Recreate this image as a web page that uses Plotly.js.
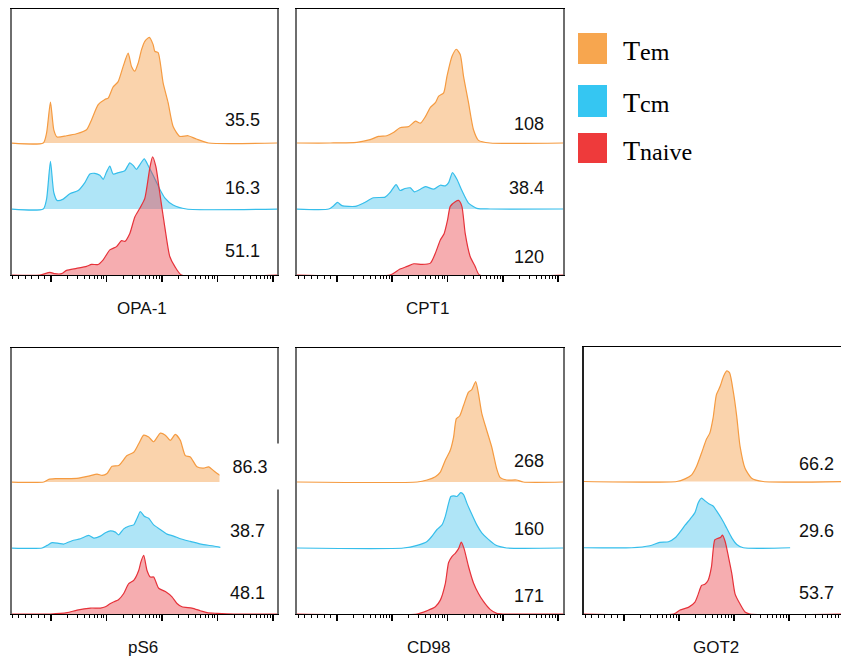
<!DOCTYPE html>
<html>
<head>
<meta charset="utf-8">
<script src="https://cdn.plot.ly/plotly-3.0.1.min.js"></script>
<style>html,body{margin:0;padding:0;background:#fff;}#chart{width:841px;height:662px;}</style>
</head>
<body>
<div id="chart"></div>
<script>
// ---------- data ----------
const markers = ['OPA-1', 'CPT1', 'pS6', 'CD98', 'GOT2'];
const populations = ['Tem', 'Tcm', 'Tnaive'];
const value_Tem = [35.5, 108, 86.3, 268, 66.2];
const value_Tcm = [16.3, 38.4, 38.7, 160, 29.6];
const value_Tnaive = [51.1, 120, 48.1, 171, 53.7];

// x: position on the log (decade) axis; y: normalised count (1 = one lane height)
const opa1_Tem_x = [-0.75, -0.14, -0.08, -0.01, 0.05, 0.11, 0.28, 0.46, 0.64, 0.73, 0.85, 0.97, 1.03, 1.12, 1.21, 1.30, 1.39, 1.45, 1.51, 1.57, 1.63, 1.69, 1.77, 1.84, 1.87, 1.93, 2.02, 2.11, 2.20, 2.32, 2.47, 2.62, 2.84, 4.1];
const opa1_Tem_y = [0, 0, 0.15, 0.62, 0.20, 0.09, 0.11, 0.14, 0.20, 0.35, 0.58, 0.66, 0.68, 0.85, 0.93, 1.16, 1.36, 1.16, 1.09, 1.21, 1.41, 1.54, 1.60, 1.49, 1.39, 1.37, 0.91, 0.61, 0.25, 0.10, 0.11, 0.06, 0, 0];
const opa1_Tcm_x = [-0.75, -0.14, -0.08, -0.01, 0.05, 0.11, 0.22, 0.34, 0.49, 0.61, 0.70, 0.79, 0.88, 0.94, 1.00, 1.06, 1.12, 1.21, 1.33, 1.42, 1.48, 1.54, 1.60, 1.68, 1.75, 1.84, 1.96, 2.05, 2.20, 2.44, 4.1];
const opa1_Tcm_y = [0, 0, 0.15, 0.72, 0.25, 0.13, 0.15, 0.23, 0.28, 0.40, 0.53, 0.54, 0.51, 0.45, 0.56, 0.65, 0.53, 0.55, 0.58, 0.70, 0.66, 0.60, 0.67, 0.76, 0.66, 0.51, 0.30, 0.17, 0.06, 0, 0];
const opa1_Tnaive_x = [-0.75, -0.20, -0.02, 0.07, 0.19, 0.28, 0.46, 0.64, 0.73, 0.85, 0.94, 1.06, 1.18, 1.27, 1.33, 1.42, 1.51, 1.60, 1.69, 1.78, 1.83, 1.89, 1.96, 2.05, 2.14, 2.23, 2.35, 4.1];
const opa1_Tnaive_y = [0, 0, 0.04, 0.02, 0.02, 0.07, 0.10, 0.13, 0.16, 0.16, 0.23, 0.38, 0.43, 0.52, 0.51, 0.63, 0.88, 1.01, 1.16, 1.62, 1.79, 1.64, 1.24, 0.73, 0.28, 0.13, 0, 0];

const cpt1_Tem_x = [-0.75, -0.12, 0.36, 0.60, 0.75, 0.90, 1.02, 1.14, 1.30, 1.42, 1.51, 1.60, 1.69, 1.78, 1.84, 1.93, 1.99, 2.08, 2.16, 2.23, 2.29, 2.38, 2.47, 2.56, 2.77, 4.1];
const cpt1_Tem_y = [0, 0, 0.01, 0.05, 0.10, 0.11, 0.16, 0.23, 0.25, 0.33, 0.30, 0.40, 0.54, 0.61, 0.71, 0.76, 1.01, 1.31, 1.42, 1.34, 1.01, 0.61, 0.20, 0.04, 0, 0];
const cpt1_Tcm_x = [-0.75, -0.15, -0.06, 0.01, 0.09, 0.33, 0.48, 0.66, 0.87, 0.96, 1.07, 1.14, 1.23, 1.33, 1.40, 1.51, 1.60, 1.75, 1.87, 1.96, 2.02, 2.09, 2.17, 2.26, 2.38, 2.53, 2.77, 4.1];
const cpt1_Tcm_y = [0, 0, 0.05, 0.10, 0.05, 0.04, 0.09, 0.17, 0.18, 0.25, 0.37, 0.28, 0.31, 0.32, 0.26, 0.30, 0.34, 0.30, 0.36, 0.35, 0.40, 0.55, 0.45, 0.28, 0.09, 0.01, 0, 0];
const cpt1_Tnaive_x = [-0.75, 0.96, 1.14, 1.27, 1.39, 1.54, 1.69, 1.78, 1.87, 1.94, 2.00, 2.05, 2.14, 2.20, 2.26, 2.32, 2.41, 2.50, 2.58, 4.1];
const cpt1_Tnaive_y = [0, 0, 0.09, 0.13, 0.17, 0.16, 0.18, 0.33, 0.53, 0.63, 0.83, 1.04, 1.11, 1.13, 1.04, 0.63, 0.28, 0.13, 0, 0];

const ps6_Tem_x = [-0.75, -0.13, -0.04, 0.08, 0.29, 0.50, 0.68, 0.83, 0.92, 1.01, 1.10, 1.22, 1.37, 1.49, 1.58, 1.67, 1.76, 1.85, 1.97, 2.06, 2.15, 2.24, 2.33, 2.42, 2.51, 2.63, 2.75, 2.84, 2.96, 3.08];
const ps6_Tem_y = [0, 0, 0.04, 0.05, 0.05, 0.06, 0.09, 0.12, 0.10, 0.13, 0.24, 0.25, 0.40, 0.45, 0.58, 0.71, 0.68, 0.61, 0.74, 0.71, 0.63, 0.72, 0.63, 0.40, 0.38, 0.23, 0.21, 0.23, 0.15, 0.08];
const ps6_Tcm_x = [-0.75, -0.16, -0.07, 0.02, 0.14, 0.23, 0.38, 0.53, 0.68, 0.77, 0.89, 0.98, 1.07, 1.16, 1.22, 1.31, 1.40, 1.49, 1.55, 1.61, 1.68, 1.76, 1.85, 1.97, 2.09, 2.21, 2.33, 2.51, 2.75, 2.93, 3.05];
const ps6_Tcm_y = [0, 0, 0.04, 0.08, 0.07, 0.06, 0.11, 0.14, 0.19, 0.15, 0.18, 0.23, 0.26, 0.24, 0.20, 0.29, 0.33, 0.35, 0.45, 0.55, 0.48, 0.45, 0.35, 0.28, 0.21, 0.18, 0.14, 0.10, 0.05, 0.03, 0.01];
const ps6_Tnaive_x = [-0.75, -0.01, 0.29, 0.47, 0.71, 0.89, 0.98, 1.07, 1.22, 1.31, 1.40, 1.49, 1.58, 1.62, 1.67, 1.73, 1.79, 1.85, 1.94, 2.06, 2.18, 2.27, 2.36, 2.54, 2.69, 2.81, 2.99, 3.29, 4.1];
const ps6_Tnaive_y = [0, 0, 0.02, 0.06, 0.09, 0.09, 0.11, 0.16, 0.22, 0.31, 0.46, 0.51, 0.66, 0.79, 0.89, 0.66, 0.56, 0.56, 0.39, 0.34, 0.26, 0.16, 0.11, 0.09, 0.05, 0.02, 0.01, 0, 0];

const cd98_Tem_x = [-0.75, 1.45, 1.63, 1.78, 1.87, 1.96, 2.05, 2.11, 2.16, 2.22, 2.29, 2.38, 2.44, 2.51, 2.56, 2.62, 2.71, 2.80, 2.89, 2.95, 3.07, 3.25, 3.37, 4.1];
const cd98_Tem_y = [0, 0, 0.03, 0.08, 0.15, 0.33, 0.48, 0.68, 0.96, 1.00, 1.16, 1.36, 1.40, 1.52, 1.34, 1.04, 0.78, 0.53, 0.20, 0.07, 0.03, 0.03, 0, 0];
const cd98_Tcm_x = [-0.75, 1.20, 1.45, 1.63, 1.72, 1.81, 1.90, 1.96, 2.02, 2.06, 2.11, 2.17, 2.24, 2.29, 2.35, 2.44, 2.53, 2.62, 2.74, 2.86, 2.95, 3.07, 4.1];
const cd98_Tcm_y = [0, 0, 0.04, 0.10, 0.18, 0.28, 0.35, 0.48, 0.68, 0.78, 0.79, 0.78, 0.84, 0.81, 0.68, 0.51, 0.35, 0.23, 0.13, 0.05, 0.02, 0, 0];
const cd98_Tnaive_x = [-0.75, 1.45, 1.63, 1.78, 1.87, 1.96, 2.02, 2.08, 2.14, 2.20, 2.25, 2.30, 2.38, 2.47, 2.56, 2.65, 2.77, 2.89, 3.01, 4.1];
const cd98_Tnaive_y = [0, 0, 0.05, 0.11, 0.21, 0.46, 0.78, 0.87, 0.92, 0.99, 1.09, 0.99, 0.72, 0.47, 0.31, 0.19, 0.07, 0.01, 0, 0];

const got2_Tem_x = [-0.75, 0.96, 1.11, 1.23, 1.32, 1.41, 1.50, 1.56, 1.62, 1.68, 1.75, 1.81, 1.87, 1.92, 1.99, 2.05, 2.11, 2.20, 2.32, 2.53, 4.1];
const got2_Tem_y = [0, 0, 0.04, 0.10, 0.23, 0.43, 0.64, 0.73, 0.96, 1.31, 1.44, 1.59, 1.67, 1.64, 1.34, 0.98, 0.53, 0.20, 0.05, 0, 0];
const got2_Tcm_x = [-0.75, 0.14, 0.47, 0.65, 0.81, 0.93, 1.02, 1.11, 1.20, 1.29, 1.35, 1.41, 1.47, 1.55, 1.62, 1.68, 1.78, 1.87, 1.96, 2.05, 2.17, 3.02];
const got2_Tcm_y = [0, 0, 0.03, 0.08, 0.09, 0.15, 0.24, 0.34, 0.43, 0.53, 0.68, 0.75, 0.71, 0.66, 0.63, 0.56, 0.43, 0.29, 0.15, 0.05, 0, 0];
const got2_Tnaive_x = [-0.75, 0.90, 1.02, 1.17, 1.29, 1.35, 1.41, 1.47, 1.53, 1.59, 1.65, 1.70, 1.76, 1.79, 1.84, 1.90, 1.96, 2.02, 2.11, 2.20, 2.29, 4.1];
const got2_Tnaive_y = [0, 0, 0.06, 0.10, 0.18, 0.30, 0.43, 0.45, 0.51, 0.71, 1.12, 1.14, 1.16, 1.19, 1.09, 0.86, 0.61, 0.30, 0.15, 0.03, 0, 0];

// ---------- build ----------
const W = 841, H = 662;
const px = v => v / W;
const py = v => 1 - v / H;

const colors = {
  Tem:    {line: 'rgb(245,155,65)', fill: 'rgba(245,160,74,0.46)', key: '#F7A64F'},
  Tcm:    {line: 'rgb(54,190,235)', fill: 'rgba(54,190,235,0.40)', key: '#35C6F2'},
  Tnaive: {line: 'rgb(230,50,58)',  fill: 'rgba(232,56,63,0.41)',  key: '#EE3A3B'}
};
const laneOffset = {Tem: 2, Tcm: 1, Tnaive: 0};

const series = [
  {Tem: [opa1_Tem_x, opa1_Tem_y], Tcm: [opa1_Tcm_x, opa1_Tcm_y], Tnaive: [opa1_Tnaive_x, opa1_Tnaive_y]},
  {Tem: [cpt1_Tem_x, cpt1_Tem_y], Tcm: [cpt1_Tcm_x, cpt1_Tcm_y], Tnaive: [cpt1_Tnaive_x, cpt1_Tnaive_y]},
  {Tem: [ps6_Tem_x, ps6_Tem_y], Tcm: [ps6_Tcm_x, ps6_Tcm_y], Tnaive: [ps6_Tnaive_x, ps6_Tnaive_y]},
  {Tem: [cd98_Tem_x, cd98_Tem_y], Tcm: [cd98_Tcm_x, cd98_Tcm_y], Tnaive: [cd98_Tnaive_x, cd98_Tnaive_y]},
  {Tem: [got2_Tem_x, got2_Tem_y], Tcm: [got2_Tcm_x, got2_Tcm_y], Tnaive: [got2_Tnaive_x, got2_Tnaive_y]}
];
const values = {Tem: value_Tem, Tcm: value_Tcm, Tnaive: value_Tnaive};

// panel frames in pixels: [left, right, top, bottom], axis range, border colour, right border
const panels = [
  {l: 12,  r: 277, t: 9,   b: 275, range: [-0.703, 4.072], border: '#6e6e6e', mirror: true},
  {l: 297, r: 563, t: 9,   b: 275, range: [-0.724, 4.09],  border: '#6e6e6e', mirror: true},
  {l: 12,  r: 277, t: 348, b: 614, range: [-0.703, 4.072], border: '#6e6e6e', mirror: true},
  {l: 297, r: 563, t: 348, b: 614, range: [-0.724, 4.09],  border: '#6e6e6e', mirror: true},
  {l: 584, r: 841, t: 347, b: 614, range: [-0.727, 3.945], border: '#222222', mirror: false}
];
const labelPos = [
  {xr: 262, ys: [120, 188, 251], title: [142, 309]},
  {xr: 546, ys: [124, 188, 257], title: [427, 309]},
  {xr: 267, ys: [466, 531, 593], title: [143, 647]},
  {xr: 546, ys: [461, 529, 596], title: [428, 647]},
  {xr: 836, ys: [464, 531, 593], title: [716, 647]}
];

const majorTicks = [0, 1, 2, 3, 4];
const minorTicks = [];
for (let k = 1; k <= 6; k++) minorTicks.push(-0.117 * k);
for (let d = 0; d <= 4; d++) for (let k = 2; k <= 9; k++) minorTicks.push(d + Math.log10(k));

const traces = [];
const layout = {
  width: W, height: H,
  margin: {l: 0, r: 0, t: 0, b: 0},
  paper_bgcolor: '#fff', plot_bgcolor: 'rgba(0,0,0,0)',
  showlegend: false,
  font: {family: 'Liberation Sans, Arial, sans-serif', color: '#000'},
  annotations: [], shapes: []
};

panels.forEach((p, i) => {
  const n = i + 1;
  const xa = 'x' + (n === 1 ? '' : n), ya = 'y' + (n === 1 ? '' : n);
  layout['xaxis' + (n === 1 ? '' : n)] = {
    domain: [px(p.l), px(p.r)], range: p.range, anchor: ya,
    showgrid: false, zeroline: false, showline: true, linecolor: '#000', linewidth: 1,
    mirror: true, ticks: 'outside', tickvals: majorTicks, ticklen: 6, tickwidth: 1.6, tickcolor: '#000',
    showticklabels: false, fixedrange: true,
    minor: {tickvals: minorTicks, ticks: 'outside', ticklen: 3, tickwidth: 1, tickcolor: '#000', showgrid: false}
  };
  layout['yaxis' + (n === 1 ? '' : n)] = {
    domain: [py(p.b), py(p.t)], range: [0, 4.03], anchor: xa,
    showgrid: false, zeroline: false, showline: true, linecolor: p.border, linewidth: 1.8,
    mirror: p.mirror, ticks: '', showticklabels: false, fixedrange: true
  };
  populations.forEach(pop => {
    const [xs, ys] = series[i][pop];
    const off = laneOffset[pop];
    traces.push({
      type: 'scatter', mode: 'lines', x: xs, y: xs.map(() => off), xaxis: xa, yaxis: ya,
      line: {width: 0, color: 'rgba(0,0,0,0)'}, hoverinfo: 'skip'
    });
    traces.push({
      type: 'scatter', mode: 'lines', x: xs, y: ys.map(v => v + off), xaxis: xa, yaxis: ya,
      fill: 'tonexty', fillcolor: colors[pop].fill,
      line: {color: colors[pop].line, width: 1.2, shape: 'spline', smoothing: 0.6},
      hoverinfo: 'skip', name: pop
    });
  });
  // value labels
  populations.forEach((pop, j) => {
    const ann = {
      xref: 'paper', yref: 'paper', x: px(labelPos[i].xr), y: py(labelPos[i].ys[j]),
      xanchor: 'right', yanchor: 'middle', showarrow: false,
      text: String(values[pop][i]), font: {size: 18, color: '#111'}
    };
    layout.annotations.push(ann);
  });
  // axis title
  layout.annotations.push({
    xref: 'paper', yref: 'paper', x: px(labelPos[i].title[0]), y: py(labelPos[i].title[1]),
    xanchor: 'center', yanchor: 'middle', showarrow: false,
    text: markers[i], font: {size: 17, color: '#111'}
  });
});

// white label box in pS6 panel that covers part of the frame
layout.annotations[2 * 4 + 0] = Object.assign({}, layout.annotations[2 * 4 + 0], {
  bgcolor: '#fff', width: 58, height: 43, xanchor: 'right', x: px(281), align: 'center'
});

// legend
const legendKeys = [[33, 64], [85, 117], [133, 163]];
populations.forEach((pop, j) => {
  layout.shapes.push({
    type: 'rect', xref: 'paper', yref: 'paper',
    x0: px(578), x1: px(607), y0: py(legendKeys[j][1]), y1: py(legendKeys[j][0]),
    fillcolor: colors[pop].key, line: {width: 0}
  });
  layout.annotations.push({
    xref: 'paper', yref: 'paper', x: px(621), y: py((legendKeys[j][0] + legendKeys[j][1]) / 2 + 2),
    xanchor: 'left', yanchor: 'middle', showarrow: false,
    text: '<span style="font-size:28px">' + pop.charAt(0) + '</span>' + pop.slice(1),
    font: {family: 'Liberation Serif, Times New Roman, serif', size: 24, color: '#000'}
  });
});

Plotly.newPlot('chart', traces, layout, {staticPlot: true, displayModeBar: false});
</script>
</body>
</html>
